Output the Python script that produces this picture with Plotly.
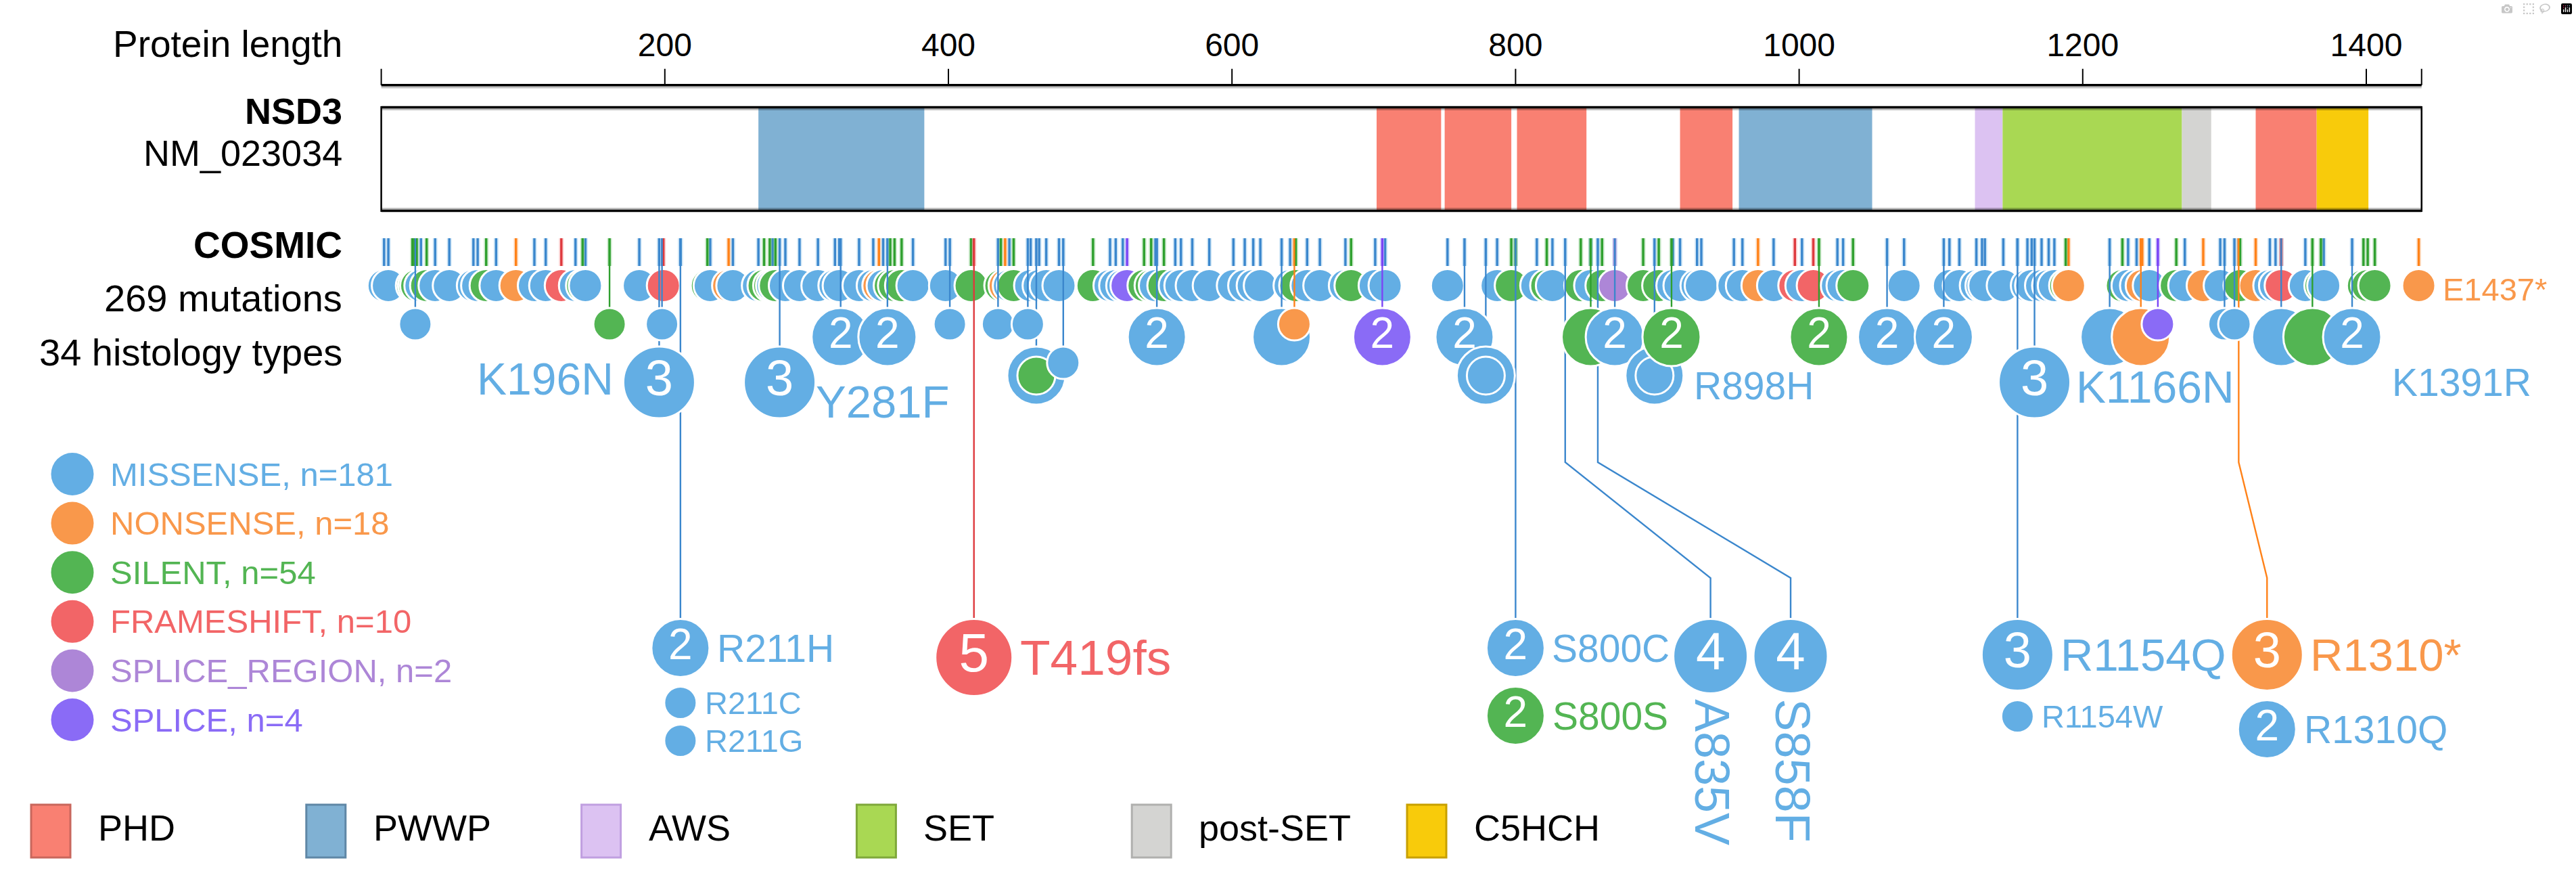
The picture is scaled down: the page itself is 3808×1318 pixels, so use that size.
import plotly.graph_objects as go

# ============================ DATA ============================
protein_name = "NSD3"
transcript = "NM_023034"
protein_length = 1439
axis_tick_values = [200, 400, 600, 800, 1000, 1200, 1400]
axis_tick_labels = ["200", "400", "600", "800", "1000", "1200", "1400"]

domain_names = ["PWWP", "PHD", "PHD", "PHD", "PHD", "PWWP", "AWS", "SET", "post-SET", "PHD", "C5HCH"]
domain_start = [266, 702, 750, 801, 916, 957.5, 1124, 1143.5, 1270, 1322, 1365]
domain_end = [383, 747.5, 797, 850, 953, 1051.5, 1143.5, 1270, 1290.6, 1365, 1401.5]
domain_legend = ["PHD", "PWWP", "AWS", "SET", "post-SET", "C5HCH"]

mutation_classes = ["MISSENSE", "NONSENSE", "SILENT", "FRAMESHIFT", "SPLICE_REGION", "SPLICE"]
class_codes = ["M", "N", "S", "F", "R", "P"]
class_totals = [181, 18, 54, 10, 2, 4]
cosmic_total = 269
histology_types = 34

# single mutations drawn in the first lane (position, class code)
row1_pos = [2, 5, 22, 23.5, 25, 28, 32, 38, 48, 65, 68, 74, 81, 95, 108, 116, 127, 137, 142, 144,
            182, 199, 230, 232, 245, 248, 266, 270, 274, 276, 278, 285,
            295, 308, 320, 323, 337, 347, 351, 354, 359, 362, 367, 375, 398, 416, 437, 440, 443, 446,
            458, 464, 469, 478, 502, 514, 518, 523, 526, 538, 543, 546, 552, 560, 564, 572,
            584, 601, 609, 615, 620, 641, 645, 653, 662, 680, 684, 701, 708, 752, 787, 797, 815, 822,
            826, 846, 853, 861,
            870, 890, 901, 911, 916, 928, 931, 954, 960, 971, 982, 997, 1002, 1010, 1027, 1031, 1038,
            1074, 1106, 1113, 1125, 1129, 1131, 1144,
            1161, 1164, 1171, 1176, 1180, 1188, 1190, 1228, 1232, 1238, 1242, 1247, 1266, 1272, 1285,
            1297, 1311, 1322, 1332, 1336, 1340, 1357, 1368, 1370, 1398, 1401, 1406, 1437]
row1_type = ("MMSSSMSMMMMSMNMMFMSMMFSMNMMSSMSM"
             "MMMMMMNMSSSMMSSNMSMMMMSMMMPSSMSMMM"
             "MMMMMMSMMMSMMMMSMSMSMS"
             "RSSMMMMMMNMFMFMMSMMMMMMM"
             "MMMMMSNSMMNMSMNMSNMMFMSMSSSN")

# recurrent / displaced mutations drawn in lower lanes
stack_pos = [24, 161, 198, 324, 357, 401, 435, 456, 547, 635, 644, 706, 764, 853, 870, 910, 1014,
             1062, 1102, 1219, 1241, 1253, 1300, 1307, 1340, 1362, 1390,
             196, 281, 462, 481, 779, 898, 1166]
stack_type = "MSMMMMMMMMNPMSMSSMMMNPMMMSM" + "MMMMMMM"
stack_count = [1, 1, 1, 2, 2, 1, 1, 1, 2, 2, 1, 2, 2, 2, 2, 2, 2, 2, 2, 2, 2, 1, 1, 1, 2, 2, 2,
               3, 3, 2, 1, 2, 2, 3]
stack_lane = [2] * 27 + [3] * 7
hidden_count_pos = [635, 853, 1219, 1241, 1340, 1362, 462, 779, 898]
ring_pos = [462, 779, 898]
ring_type = "SMM"

stack_label_pos = [196, 281, 898, 1166, 1390, 1437]
stack_label_text = ["K196N", "Y281F", "R898H", "K1166N", "K1391R", "E1437*"]

# highlighted hotspots (callouts)
callout_pos = [211, 418, 800, 835, 858, 1154, 1310]
callout_type = "MFMMMMN"
callout_count = [2, 5, 2, 4, 4, 3, 3]
callout_label = ["R211H", "T419fs", "S800C", "A835V", "S858F", "R1154Q", "R1310*"]
callout_place = [211, 418, 800, 937.5, 994, 1154, 1330]
callout_vertical = [False, False, False, True, True, False, False]
second_parent = [0, 0, 2, 5, 6]
second_type = "MMSMM"
second_count = [1, 1, 2, 1, 2]
second_label = ["R211C", "R211G", "S800S", "R1154W", "R1310Q"]

# ============================ STYLE / LAYOUT ============================
W, H = 3808, 1318
PX0, PXS = 563.6, 2.096
FONT = "Liberation Sans, Arial, sans-serif"
FILL = dict(zip(class_codes, ["#63AEE4", "#F9984B", "#53B553", "#F26567", "#AD86D7", "#8A6BF6"]))
LINE = dict(zip(class_codes, ["#3B87CD", "#FF8219", "#2FA02F", "#DE3A3E", "#A07AD2", "#7B45F5"]))
DOM_COL = dict(zip(domain_legend, ["#F98072", "#80B1D3", "#DCC2F2", "#A9D853", "#D4D4D2", "#F8CB0B"]))
DOM_EDGE = dict(zip(domain_legend, ["#C9675C", "#5F87A6", "#C09FE0", "#7FA83A", "#B0B0AE", "#C8A000"]))

AXIS_Y = 125.8
BOX_TOP, BOX_BOT = 158.5, 311.5
TICK_TOP, TICK_BOT = 352, 393
ROW1_Y = 422
LANE_TOP = {2: 455, 3: 512}
CALLOUT_TOP = 914.5
BEND1, BEND2 = 683, 854
RADIUS = {1: 24, 2: 43, 3: 53, 4: 55, 5: 57}
NUM_FONT = {2: 64, 3: 74, 4: 78, 5: 80}
LABEL_FONT = {1: 47, 2: 57, 3: 67, 4: 72, 5: 73}

fig = go.Figure()
shapes = []
ann = []


def add_text(x, y, text, size, color="black", xanchor="left", xref="x", xshift=0, yshift=0,
             textangle=0, yanchor="middle"):
    ann.append(dict(x=x, y=y, xref=xref, yref="y", text=text, showarrow=False,
                    xanchor=xanchor, yanchor=yanchor, xshift=xshift, yshift=yshift,
                    textangle=textangle, font=dict(family=FONT, size=size, color=color)))


# ---------- top axis ----------
fig.add_trace(go.Scatter(x=[0, protein_length], y=[AXIS_Y + 3.3] * 2, mode="lines",
                         line=dict(color="#C4C4C4", width=3), hoverinfo="skip"))
fig.add_trace(go.Scatter(x=[0, protein_length], y=[AXIS_Y] * 2, mode="lines",
                         line=dict(color="black", width=3.5), hoverinfo="skip"))
tx, ty = [], []
for v in [0] + axis_tick_values + [protein_length]:
    tx += [v, v, None]
    ty += [101.7, AXIS_Y, None]
fig.add_trace(go.Scatter(x=tx, y=ty, mode="lines", line=dict(color="black", width=2),
                         hoverinfo="skip"))
fig.add_trace(go.Scatter(x=axis_tick_values, y=[71] * len(axis_tick_values), mode="text",
                         text=axis_tick_labels, textposition="middle center",
                         textfont=dict(family=FONT, size=48, color="black"), hoverinfo="skip"))

# ---------- protein box with domains ----------
for n, s, e in zip(domain_names, domain_start, domain_end):
    shapes.append(dict(type="rect", xref="x", yref="y", x0=s, x1=e, y0=BOX_TOP + 1.5,
                       y1=BOX_BOT - 1.5, fillcolor=DOM_COL[n], line=dict(width=0), layer="above"))
for y0, y1 in [(BOX_TOP + 1.5, BOX_TOP + 4.5), (BOX_BOT - 4.5, BOX_BOT - 1.5)]:
    shapes.append(dict(type="rect", xref="x", yref="y", x0=0, x1=protein_length, y0=y0, y1=y1,
                       fillcolor="rgba(0,0,0,0.25)", line=dict(width=0), layer="above"))
for yy in [BOX_TOP, BOX_BOT]:
    shapes.append(dict(type="line", xref="x", yref="y", x0=0, x1=protein_length, y0=yy, y1=yy,
                       line=dict(color="black", width=3.5), layer="above"))
for xx in [0, protein_length]:
    shapes.append(dict(type="line", xref="x", yref="y", x0=xx, x1=xx, y0=BOX_TOP - 1.5,
                       y1=BOX_BOT + 1.5, line=dict(color="black", width=2.5), layer="above"))

# ---------- mutation ticks ----------
tick_sites = list(zip(row1_pos, row1_type)) + list(zip(stack_pos, stack_type)) + \
    list(zip(callout_pos, callout_type)) + \
    [(callout_pos[p], t) for p, t in zip(second_parent, second_type)]
for code in class_codes:
    xs, ys = [], []
    for p, t in tick_sites:
        if t == code:
            xs += [p, p, None]
            ys += [TICK_TOP, TICK_BOT, None]
    if not xs:
        continue
    fig.add_trace(go.Scatter(x=xs, y=ys, mode="lines", hoverinfo="skip",
                             line=dict(color=FILL[code], width=7), opacity=0.3))
    fig.add_trace(go.Scatter(x=xs, y=ys, mode="lines", hoverinfo="skip",
                             line=dict(color=LINE[code], width=3.4)))

# ---------- lane-1 circles ----------
order = sorted(range(len(row1_pos)), key=lambda i: row1_pos[i])
fig.add_trace(go.Scatter(
    x=[row1_pos[i] for i in order], y=[ROW1_Y] * len(order), mode="markers", hoverinfo="skip",
    marker=dict(size=2 * 24.5, color=[FILL[row1_type[i]] for i in order],
                line=dict(color="white", width=3), opacity=1)))

# ---------- stems to lower lanes ----------
stack_y = [LANE_TOP[l] + RADIUS[c] for l, c in zip(stack_lane, stack_count)]
for p, t, c, y in zip(stack_pos, stack_type, stack_count, stack_y):
    fig.add_trace(go.Scatter(x=[p, p], y=[TICK_TOP, y - RADIUS[c]], mode="lines",
                             hoverinfo="skip", line=dict(color=LINE[t], width=2.4)))

# ---------- callout stems ----------
for p, t, c, q in zip(callout_pos, callout_type, callout_count, callout_place):
    if q == p:
        xs, ys = [p, p], [TICK_TOP, CALLOUT_TOP]
    else:
        xs, ys = [p, p, q, q], [TICK_TOP, BEND1, BEND2, CALLOUT_TOP]
    fig.add_trace(go.Scatter(x=xs, y=ys, mode="lines", hoverinfo="skip",
                             line=dict(color=LINE[t], width=2.4)))

# ---------- lower-lane circles ----------
items = []
for p, t, c, y in zip(stack_pos, stack_type, stack_count, stack_y):
    txt = str(c) if (c >= 2 and p not in hidden_count_pos) else ""
    items.append((p, 0, y, 2 * RADIUS[c], FILL[t], txt, NUM_FONT.get(c, 10)))
for p, t in zip(ring_pos, ring_type):
    y = stack_y[stack_pos.index(p)]
    items.append((p + 0.01, 1, y, 2 * 28, FILL[t], "", 10))
items.sort(key=lambda r: (r[0], r[1]))
fig.add_trace(go.Scatter(
    x=[r[0] for r in items], y=[r[2] for r in items], mode="markers+text", hoverinfo="skip",
    marker=dict(size=[r[3] for r in items], color=[r[4] for r in items], opacity=1,
                line=dict(color="white", width=3)),
    text=[r[5] for r in items], textposition="middle center",
    textfont=dict(family=FONT, color="white", size=[r[6] for r in items])))

# labels of lane mutations
lab_cfg = {  # xanchor, xshift, yshift (px)
    "K196N": ("right", -65, 5), "Y281F": ("left", 51, -28), "R898H": ("left", 56, -15),
    "K1166N": ("left", 59, -7), "K1391R": ("left", 57, -67), "E1437*": ("left", 33, -5)}
for p, txt in zip(stack_label_pos, stack_label_text):
    if p in stack_pos:
        i = stack_pos.index(p)
        y, c, t = stack_y[i], stack_count[i], stack_type[i]
    else:
        i = row1_pos.index(p)
        y, c, t = ROW1_Y, 1, row1_type[i]
    xa, xs_, ys_ = lab_cfg[txt]
    add_text(p, y, txt, LABEL_FONT[c] if txt not in ("K196N", "K1166N") else 66, FILL[t], xa,
             xshift=xs_, yshift=ys_)

# ---------- callout circles ----------
cx, cy, cs, cc, ct, cf = [], [], [], [], [], []
for k, (p, t, c, q, lab, vert) in enumerate(zip(callout_pos, callout_type, callout_count,
                                                  callout_place, callout_label,
                                                  callout_vertical)):
    r = RADIUS[c]
    y = CALLOUT_TOP + r
    cx.append(q); cy.append(y); cs.append(2 * r); cc.append(FILL[t]); ct.append(str(c))
    cf.append(NUM_FONT[c])
    if vert:
        add_text(q, y + r + 6, lab, LABEL_FONT[c], FILL[t], "center", xshift=3,
                 textangle=90, yanchor="top")
    else:
        add_text(q, y, lab, LABEL_FONT[c], FILL[t], "left", xshift=r + 9)
    bottom = y + r
    gap = 14
    for par, t2, c2, lab2 in zip(second_parent, second_type, second_count, second_label):
        if par != k:
            continue
        r2 = RADIUS[c2]
        y2 = bottom + gap + r2
        cx.append(q); cy.append(y2); cs.append(2 * r2); cc.append(FILL[t2])
        ct.append(str(c2) if c2 >= 2 else ""); cf.append(NUM_FONT.get(c2, 10))
        add_text(q, y2, lab2, LABEL_FONT[c2], FILL[t2], "left", xshift=r2 + 10)
        bottom = y2 + r2
        gap = 8
fig.add_trace(go.Scatter(
    x=cx, y=cy, mode="markers+text", hoverinfo="skip",
    marker=dict(size=cs, color=cc, opacity=1, line=dict(color="white", width=3)),
    text=ct, textposition="middle center", textfont=dict(family=FONT, color="white", size=cf)))

# ---------- left titles ----------
RX = 508 / W
add_text(RX, 65, "Protein length", 55, xanchor="right", xref="paper")
add_text(RX, 164, "<b>%s</b>" % protein_name, 54, xanchor="right", xref="paper")
add_text(RX, 226, transcript, 54, xanchor="right", xref="paper")
add_text(RX, 362, "<b>COSMIC</b>", 55, xanchor="right", xref="paper")
add_text(RX, 440, "%d mutations" % cosmic_total, 56, xanchor="right", xref="paper")
add_text(RX, 520, "%d histology types" % histology_types, 56, xanchor="right", xref="paper")

# ---------- mutation class legend ----------
for i, (name, code, n) in enumerate(zip(mutation_classes, class_codes, class_totals)):
    yc = 700.5 + i * 72.6
    shapes.append(dict(type="circle", xref="paper", yref="y", x0=(107 - 31.5) / W,
                       x1=(107 + 31.5) / W, y0=yc - 31.5, y1=yc + 31.5, fillcolor=FILL[code],
                       line=dict(width=0)))
    add_text(161 / W, yc, "%s, n=%d" % (name, n), 49, FILL[code], "left", xref="paper")

# ---------- domain legend ----------
for i, name in enumerate(domain_legend):
    x0 = 46 + i * 406.8
    shapes.append(dict(type="rect", xref="paper", yref="y", x0=x0 / W, x1=(x0 + 58) / W,
                       y0=1189, y1=1267, fillcolor=DOM_COL[name],
                       line=dict(color=DOM_EDGE[name], width=3)))
    add_text((x0 + 97) / W, 1223, name, 54, "black", "left", xref="paper")

fig.update_layout(
    width=W, height=H, margin=dict(l=0, r=0, t=0, b=0, pad=0),
    paper_bgcolor="white", plot_bgcolor="white", showlegend=False,
    xaxis=dict(range=[-PX0 / PXS, (W - PX0) / PXS], visible=False, fixedrange=True),
    yaxis=dict(range=[H, 0], visible=False, fixedrange=True),
    shapes=shapes, annotations=ann)
for tr in fig.data:
    tr.showlegend = False
    tr.cliponaxis = False

fig.write_html("out.html", post_script="document.body.style.margin='0px';")
